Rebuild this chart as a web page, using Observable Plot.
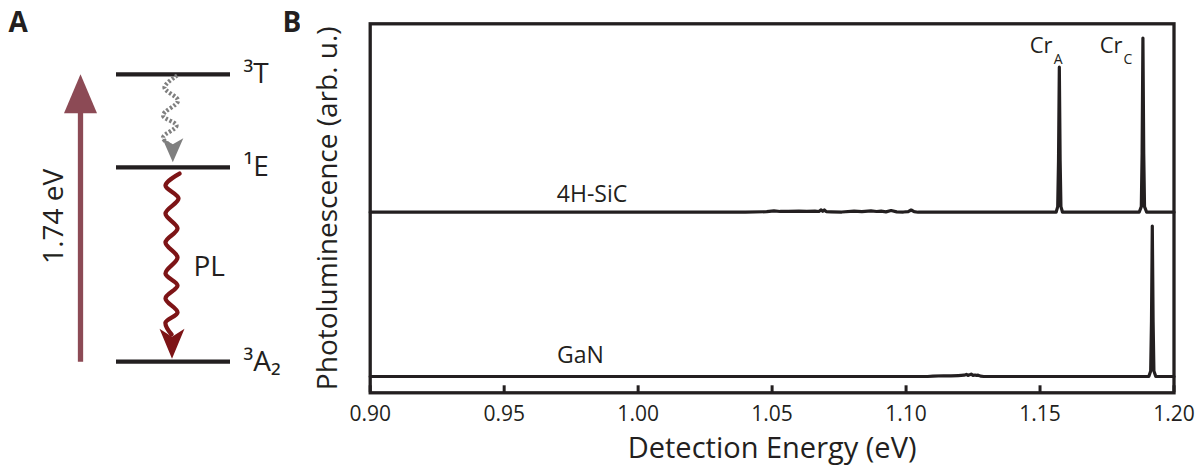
<!DOCTYPE html>
<html><head><meta charset="utf-8">
<script src="https://cdn.jsdelivr.net/npm/d3@7"></script>
<script src="https://cdn.jsdelivr.net/npm/@observablehq/plot@0.6"></script>
<style>
body{margin:0;background:#fff;}
#wrap{display:flex;width:1198px;height:465px;overflow:hidden;}
svg{display:block;}
</style></head><body><div id="wrap"></div>
<script>
// ---------- Panel A data (energy-level schematic) ----------
const levelTerms = ["³A₂", "¹E", "³T"];
const levelEnergies = [0, 1.177, 1.74];          // eV
const pumpLabel = "1.74 eV";
const pumpEnergy = 1.74;
// wavy transitions: way-points (schematic x, energy eV)
const relaxX = [176.7, 164, 177.5, 162.5, 176, 162.5, 171];
const relaxE = [1.733, 1.660, 1.581, 1.491, 1.430, 1.357, 1.303];
const plX = [179, 165, 178, 165, 177, 165, 177, 165, 177, 165, 177, 165, 171];
const plE = [1.139, 1.067, 0.988, 0.897, 0.806, 0.722, 0.631, 0.534, 0.461, 0.383, 0.298, 0.237, 0.165];
const relaxTipE = 1.208;
const plTipE = 0.018;
const plLabel = "PL";
const plLabelE = 0.576;
const panelLetters = ["A", "B"];
const panelLetterX = [8, 282];
const panelLetterE = 2.05;

// ---------- Panel B data (PL spectra) ----------
const xTicks = [0.90, 0.95, 1.00, 1.05, 1.10, 1.15, 1.20];
const sampleNames = ["4H-SiC", "GaN"];
const sampleOffsets = [48.94, 4.42];
const sicEnergy = [0.900, 1.040, 1.048, 1.0507, 1.053, 1.056, 1.060, 1.063, 1.066, 1.0675, 1.0683, 1.0689, 1.0695, 1.0702, 1.072, 1.076, 1.0806, 1.0835, 1.0869, 1.0890, 1.0907, 1.0925, 1.0944, 1.0965, 1.0990, 1.1008, 1.1019, 1.1030, 1.1045, 1.120, 1.1560, 1.1566, 1.1569, 1.1572, 1.1575, 1.1578, 1.1584, 1.1870, 1.1878, 1.1881, 1.1884, 1.1887, 1.1890, 1.1898, 1.200];
const sicSignal = [0, 0, 0.15, 0.35, 0.2, 0.25, 0.3, 0.2, 0.3, 0.2, 0.65, 0.25, 0.6, 0.15, 0.1, 0.05, 0.3, 0.15, 0.35, 0.2, 0.3, 0.1, 0.45, 0.1, 0.05, 0.15, 0.6, 0.15, 0, 0, 0, 1.5, 14, 39.3, 14, 1.5, 0, 0, 1.5, 16, 47.2, 16, 1.5, 0, 0];
const ganEnergy = [0.900, 1.108, 1.1101, 1.114, 1.1168, 1.1195, 1.1216, 1.1225, 1.1231, 1.1237, 1.1243, 1.1250, 1.1257, 1.1263, 1.1269, 1.1278, 1.1290, 1.180, 1.1906, 1.1913, 1.1916, 1.1919, 1.1922, 1.1925, 1.1932, 1.200];
const ganSignal = [0, 0, 0.1, 0.2, 0.15, 0.25, 0.35, 0.55, 0.3, 0.45, 0.65, 0.3, 0.4, 0.3, 0.35, 0.1, 0, 0, 0, 1.5, 15, 40.76, 15, 1.5, 0, 0];
const sampleLabelEnergy = [0.9828, 0.9785];
const sampleLabelY = [53.66, 10.03];
const peakNames = ["Cr", "Cr"];
const peakSubs = ["A", "C"];
const peakLabelEnergy = [1.1547, 1.1808];
const peakLabelY = 94.1;
const peakSubY = 90.4;
const xLabel = "Detection Energy (eV)";
const yLabel = "Photoluminescence (arb. u.)";

// ---------- styles ----------
const ink = "#231f20";
const pumpColor = "#8c4a55";
const plColor = "#7d1416";
const relaxColor = "#7f7f7f";
const font = "'Open Sans', 'Noto Sans', sans-serif";

const headUp = (w, h) => ({draw(ctx) {ctx.moveTo(0, 0); ctx.lineTo(w / 2, h); ctx.lineTo(-w / 2, h); ctx.closePath();}});
const headDown = (w, h, notch) => ({draw(ctx) {ctx.moveTo(0, 0); ctx.lineTo(-w / 2, -h); ctx.lineTo(0, -h + notch); ctx.lineTo(w / 2, -h); ctx.closePath();}});

// ---------- Panel A ----------
const levels = levelTerms.map((t, i) => ({term: t, energy: levelEnergies[i]}));
const relax = relaxX.map((x, i) => ({x, e: relaxE[i]}));
const pl = plX.map((x, i) => ({x, e: plE[i]}));
const letters = panelLetters.map((t, i) => ({t, x: panelLetterX[i], e: panelLetterE}));

const panelA = Plot.plot({
  width: 300, height: 465, margin: 0,
  style: {fontFamily: font, color: ink, background: "white", overflow: "visible"},
  x: {domain: [0, 300], range: [0, 300], axis: null},
  y: {domain: [0, 1.74], range: [361.2, 73.8], axis: null},
  marks: [
    Plot.link([{e0: 0, e1: pumpEnergy - 0.2}], {x1: 80, x2: 80, y1: "e0", y2: "e1", stroke: pumpColor, strokeWidth: 5.3}),
    Plot.dot([{e: pumpEnergy}], {x: 80, y: "e", symbol: headUp(33, 39), fill: pumpColor, stroke: "none"}),
    Plot.text([pumpLabel], {x: 54, y: [0.88], text: d => d, rotate: -90, fontSize: 28, fill: ink}),
    Plot.ruleY(levels, {y: "energy", x1: 116, x2: 230, stroke: ink, strokeWidth: 4.3}),
    Plot.text(levels, {x: 243, y: "energy", text: "term", textAnchor: "start", fontSize: 28, fill: ink}),
    Plot.line(relax, {x: "x", y: "e", curve: "catmull-rom", stroke: relaxColor, strokeWidth: 4.3, strokeDasharray: "2.3,1.9", strokeLinecap: "butt"}),
    Plot.dot([{e: relaxTipE}], {x: 172.3, y: "e", symbol: headDown(21, 24, 6), fill: relaxColor, stroke: "none"}),
    Plot.line(pl, {x: "x", y: "e", curve: "catmull-rom", stroke: plColor, strokeWidth: 4.3, strokeLinecap: "round"}),
    Plot.dot([{e: plTipE}], {x: 171.5, y: "e", symbol: headDown(25, 30, 8), fill: plColor, stroke: "none"}),
    Plot.text([plLabel], {x: 193, y: [plLabelE], text: d => d, textAnchor: "start", fontSize: 28, fill: ink}),
    Plot.text(letters, {x: "x", y: "e", text: "t", textAnchor: "start", fontSize: 28, fontWeight: "bold", fill: ink})
  ]
});

// ---------- Panel B ----------
const spectra = [];
sicEnergy.forEach((e, i) => spectra.push({sample: sampleNames[0], energy: e, signal: sampleOffsets[0] + sicSignal[i]}));
ganEnergy.forEach((e, i) => spectra.push({sample: sampleNames[1], energy: e, signal: sampleOffsets[1] + ganSignal[i]}));
const sampleLabels = sampleNames.map((n, i) => ({name: n, energy: sampleLabelEnergy[i], y: sampleLabelY[i]}));
const peakLabels = peakNames.map((n, i) => ({name: n, sub: peakSubs[i], energy: peakLabelEnergy[i]}));

const panelB = Plot.plot({
  width: 898, height: 465,
  marginLeft: 69.7, marginRight: 24.5, marginTop: 23.3, marginBottom: 72.7,
  style: {fontFamily: font, color: ink, background: "white"},
  x: {domain: [0.9, 1.2]},
  y: {domain: [0, 100], axis: null},
  marks: [
    Plot.line(spectra, {x: "energy", y: "signal", z: "sample", stroke: ink, strokeWidth: 3.2, strokeLinejoin: "round"}),
    Plot.ruleX(xTicks, {x: d => d, insetTop: 369 - 7, stroke: ink, strokeWidth: 3}),
    Plot.frame({stroke: ink, strokeWidth: 3.3}),
    Plot.axisX(xTicks, {tickSize: 0, tickPadding: 13, fontSize: 21, tickFormat: d => d.toFixed(2), label: null}),
    Plot.text([xLabel], {frameAnchor: "bottom", text: d => d, dy: 55.5, lineAnchor: "middle", textAnchor: "middle", fontSize: 29, fill: ink}),
    Plot.text([yLabel], {frameAnchor: "left", text: d => d, rotate: -90, dx: -41.7, lineAnchor: "middle", textAnchor: "middle", fontSize: 28, fill: ink}),
    Plot.text(sampleLabels, {x: "energy", y: "y", text: "name", fontSize: 23, fill: ink}),
    Plot.text(peakLabels, {x: "energy", y: () => peakLabelY, text: "name", textAnchor: "end", fontSize: 22, fill: ink}),
    Plot.text(peakLabels, {x: "energy", y: () => peakSubY, text: "sub", textAnchor: "start", dx: 1, fontSize: 14, fill: ink})
  ]
});

const wrap = document.getElementById("wrap");
wrap.appendChild(panelA);
wrap.appendChild(panelB);
</script>
</body></html>
